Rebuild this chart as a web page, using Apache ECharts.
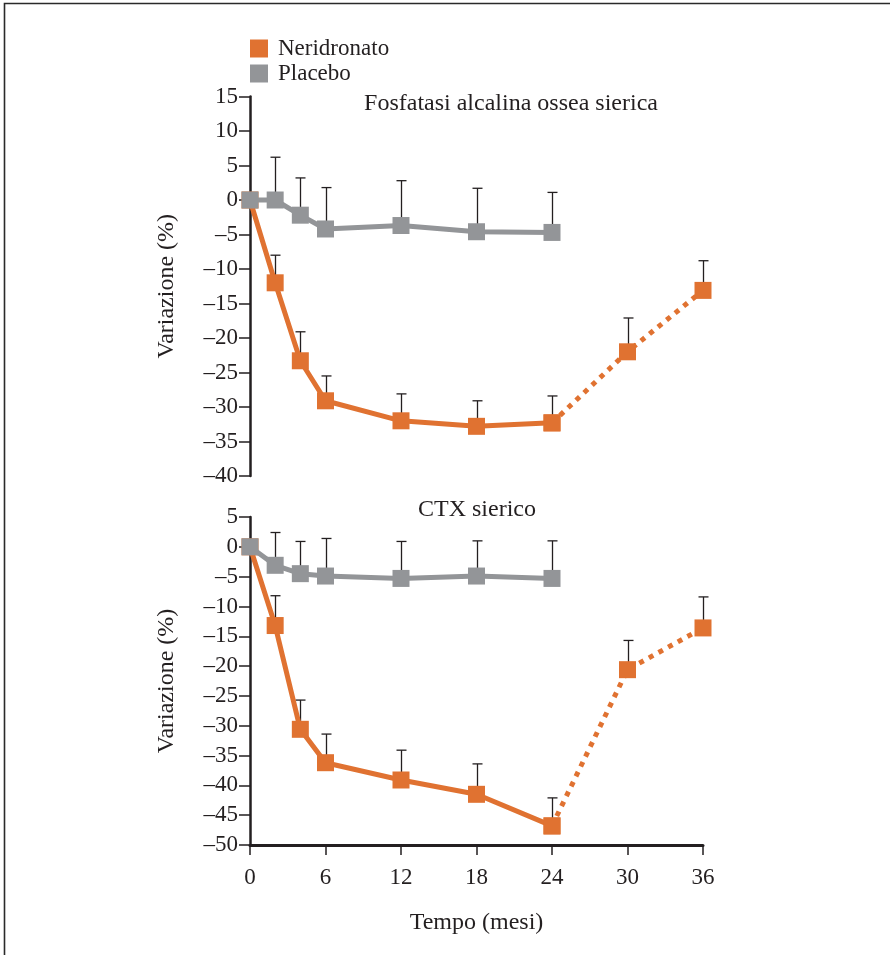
<!DOCTYPE html>
<html>
<head>
<meta charset="utf-8">
<script src="https://cdn.jsdelivr.net/npm/echarts@6/dist/echarts.min.js"></script>
<style>
html,body{margin:0;padding:0;background:#fff;}
#chart{width:890px;height:955px;}
</style>
</head>
<body>
<div id="chart"></div>
<script>
// ---- data ----
var months = [0, 2, 4, 6, 12, 18, 24, 30, 36];
var xTicks = [0, 6, 12, 18, 24, 30, 36];

// Fosfatasi alcalina ossea sierica (top)
var alpNeriSolid   = [0, -12.0, -23.3, -29.1, -32.0, -32.8, -32.3];      // months 0..24
var alpNeriDotted  = [-32.3, -22.0, -13.1];                                // months 24,30,36
var alpNeriUpper   = [null, -8.0, -19.1, -25.5, -28.1, -29.1, -28.4, -17.1, -8.8];
var alpPlacebo     = [0, 0, -2.2, -4.2, -3.7, -4.6, -4.7];                // months 0..24
var alpPlaceboUpper= [null, 6.2, 3.2, 1.8, 2.8, 1.7, 1.1];

// CTX sierico (bottom)
var ctxNeriSolid   = [0, -13.2, -30.6, -36.2, -39.1, -41.5, -46.8];
var ctxNeriDotted  = [-46.8, -20.6, -13.6];
var ctxNeriUpper   = [null, -8.2, -25.7, -31.4, -34.1, -36.4, -42.1, -15.7, -8.4];
var ctxPlacebo     = [0, -3.1, -4.5, -4.9, -5.3, -4.9, -5.3];
var ctxPlaceboUpper= [null, 2.4, 0.9, 1.4, 0.9, 1.0, 1.0];

var seriesNames = ['Neridronato', 'Placebo'];
var titles = ['Fosfatasi alcalina ossea sierica', 'CTX sierico'];
var yName = 'Variazione (%)';
var xName = 'Tempo (mesi)';

// ---- style ----
var ORANGE = '#e07231';
var GRAY = '#939598';
var INK = '#231f20';
var FONT = 'Liberation Serif';

function pairs(xs, ys) {
  var out = [];
  for (var i = 0; i < ys.length; i++) out.push([xs[i], ys[i]]);
  return out;
}
function errData(xs, means, uppers) {
  var out = [];
  for (var i = 0; i < uppers.length; i++) {
    if (uppers[i] !== null && uppers[i] !== undefined) out.push([xs[i], means[i], uppers[i]]);
  }
  return out;
}
function minusFmt(v) { return v < 0 ? '\u2013' + Math.abs(v) : String(v); }

function errSeries(data, gi) {
  return {
    type: 'custom', xAxisIndex: gi, yAxisIndex: gi, z: 1,
    silent: true,
    data: data,
    encode: { x: 0, y: [1, 2] },
    renderItem: function (params, api) {
      var p0 = api.coord([api.value(0), api.value(1)]);
      var p1 = api.coord([api.value(0), api.value(2)]);
      var x = Math.round(p0[0]) + 0.5;
      return {
        type: 'group',
        children: [
          { type: 'line', shape: { x1: x, y1: p0[1], x2: x, y2: p1[1] }, style: { stroke: INK, lineWidth: 1.3 } },
          { type: 'line', shape: { x1: x - 5, y1: p1[1], x2: x + 5, y2: p1[1] }, style: { stroke: INK, lineWidth: 1.3 } }
        ]
      };
    }
  };
}
function lineSeries(name, color, data, gi, dotted, z) {
  return {
    name: name, type: 'line', xAxisIndex: gi, yAxisIndex: gi,
    data: data, z: z,
    symbol: 'rect', symbolSize: 17, showAllSymbol: true,
    itemStyle: { color: color },
    lineStyle: { color: color, width: 5, type: dotted ? [5, 6] : 'solid', cap: 'butt' },
    emphasis: { disabled: true },
    animation: false
  };
}

var solidMonths = months.slice(0, 7);
var dottedMonths = months.slice(6);

var tickLabel = { fontFamily: FONT, fontSize: 23, color: INK };

var option = {
  backgroundColor: '#fff',
  animation: false,
  textStyle: { fontFamily: FONT, color: INK },
  legend: {
    data: seriesNames,
    orient: 'vertical',
    left: 250, top: 37, padding: 0,
    icon: 'rect', itemWidth: 18, itemHeight: 18, itemGap: 2,
    textStyle: { fontFamily: FONT, fontSize: 23, color: INK, padding: [0, 0, 0, 5] },
    selectedMode: false
  },
  grid: [
    { left: 250, top: 96.5, width: 453, height: 379.5 },
    { left: 250, top: 517, width: 453, height: 328 }
  ],
  xAxis: [
    { type: 'value', gridIndex: 0, min: 0, max: 36, interval: 6, show: false },
    {
      type: 'value', gridIndex: 1, min: 0, max: 36, interval: 6,
      name: xName, nameLocation: 'middle', nameGap: 66,
      nameTextStyle: { fontFamily: FONT, fontSize: 24, color: INK },
      axisLine: { onZero: false, lineStyle: { color: INK, width: 3 } },
      axisTick: { length: 10, lineStyle: { color: INK, width: 1.5 } },
      axisLabel: Object.assign({ margin: 21, customValues: xTicks }, tickLabel),
      splitLine: { show: false }
    }
  ],
  yAxis: [
    {
      type: 'value', gridIndex: 0, min: -40, max: 15, interval: 5,
      name: yName, nameLocation: 'middle', nameGap: 71, nameRotate: 90,
      nameTextStyle: { fontFamily: FONT, fontSize: 24, color: INK },
      axisLine: { show: true, onZero: false, lineStyle: { color: INK, width: 2.5 } },
      axisTick: { show: true, length: 11, lineStyle: { color: INK, width: 1.5 } },
      axisLabel: Object.assign({ margin: 12, formatter: minusFmt }, tickLabel),
      splitLine: { show: false }
    },
    {
      type: 'value', gridIndex: 1, min: -50, max: 5, interval: 5,
      name: yName, nameLocation: 'middle', nameGap: 71, nameRotate: 90,
      nameTextStyle: { fontFamily: FONT, fontSize: 24, color: INK },
      axisLine: { show: true, onZero: false, lineStyle: { color: INK, width: 2.5 } },
      axisTick: { show: true, length: 11, lineStyle: { color: INK, width: 1.5 } },
      axisLabel: Object.assign({ margin: 12, formatter: minusFmt }, tickLabel),
      splitLine: { show: false }
    }
  ],
  graphic: [
    { type: 'polyline', silent: true, shape: { points: [[4.5, 955], [4.5, 3.5], [890, 3.5]] },
      style: { stroke: '#2a2a2a', lineWidth: 1.6, fill: null } },
    { type: 'text', silent: true, x: 511, y: 104,
      style: { text: titles[0], font: '24px "Liberation Serif"', fill: INK, textAlign: 'center', textVerticalAlign: 'middle' } },
    { type: 'text', silent: true, x: 477, y: 510,
      style: { text: titles[1], font: '24px "Liberation Serif"', fill: INK, textAlign: 'center', textVerticalAlign: 'middle' } }
  ],
  series: [
    errSeries(errData(months, alpNeriSolid.concat(alpNeriDotted.slice(1)), alpNeriUpper), 0),
    errSeries(errData(solidMonths, alpPlacebo, alpPlaceboUpper), 0),
    lineSeries(seriesNames[0], ORANGE, pairs(dottedMonths, alpNeriDotted), 0, true, 2),
    lineSeries(seriesNames[0], ORANGE, pairs(solidMonths, alpNeriSolid), 0, false, 3),
    lineSeries(seriesNames[1], GRAY, pairs(solidMonths, alpPlacebo), 0, false, 4),

    errSeries(errData(months, ctxNeriSolid.concat(ctxNeriDotted.slice(1)), ctxNeriUpper), 1),
    errSeries(errData(solidMonths, ctxPlacebo, ctxPlaceboUpper), 1),
    lineSeries(seriesNames[0], ORANGE, pairs(dottedMonths, ctxNeriDotted), 1, true, 2),
    lineSeries(seriesNames[0], ORANGE, pairs(solidMonths, ctxNeriSolid), 1, false, 3),
    lineSeries(seriesNames[1], GRAY, pairs(solidMonths, ctxPlacebo), 1, false, 4)
  ]
};

var chart = echarts.init(document.getElementById('chart'), null, { renderer: 'canvas' });
chart.setOption(option);
</script>
</body>
</html>
